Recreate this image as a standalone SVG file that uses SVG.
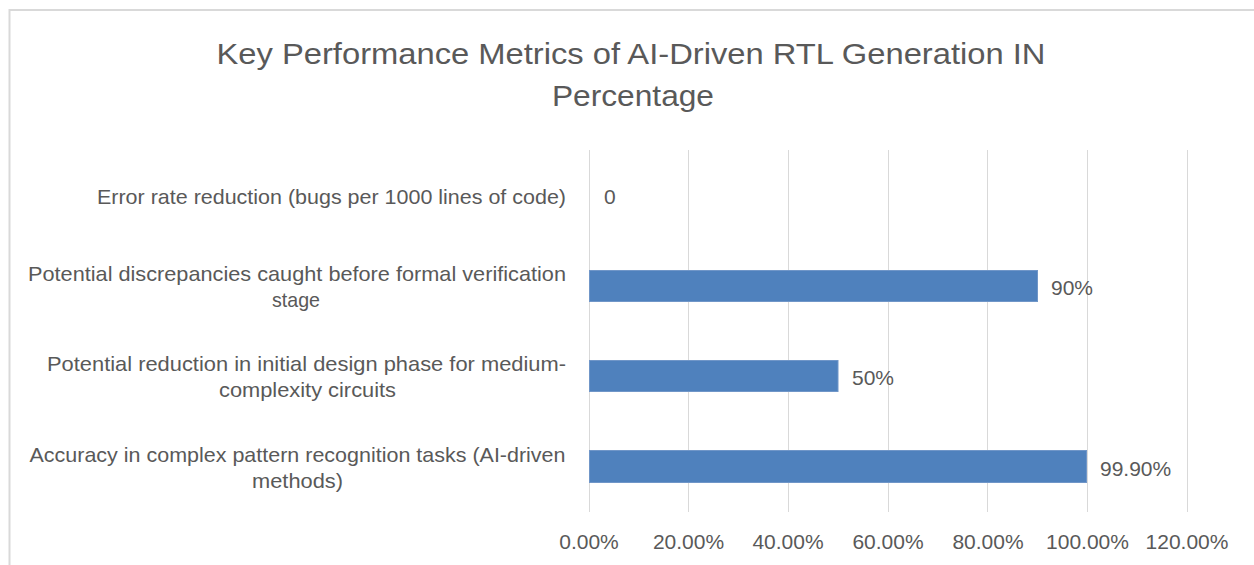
<svg xmlns="http://www.w3.org/2000/svg" width="1254" height="565" viewBox="0 0 1254 565">
  <style>
    text { font-family: "Liberation Sans", Arial, sans-serif; fill: #595959; }
    .title { font-size: 30px; text-anchor: middle; }
    .cat { font-size: 21px; }
    .catR { text-anchor: end; }
    .catM { text-anchor: middle; }
    .val { font-size: 21px; }
    .tick { font-size: 21px; text-anchor: middle; }
    .grid { stroke: #d9d9d9; stroke-width: 1; }
    .bar { fill: #4f81bd; stroke: #7096c8; stroke-width: 1; }
  </style>
  <rect x="0" y="0" width="1254" height="565" fill="#ffffff"/>
  <rect id="frame" x="9.5" y="10" width="1300" height="600" fill="#ffffff" stroke="#d9d9d9" stroke-width="2"/>

  <g id="title">
    <text class="title" x="631" y="64" textLength="829" lengthAdjust="spacingAndGlyphs">Key Performance  Metrics of AI-Driven RTL Generation IN</text>
    <text class="title" x="633" y="106" textLength="162" lengthAdjust="spacingAndGlyphs">Percentage</text>
  </g>

  <g id="gridlines">
    <line class="grid" x1="589.5" y1="150" x2="589.5" y2="512"/>
    <line class="grid" x1="688.5" y1="150" x2="688.5" y2="512"/>
    <line class="grid" x1="788.5" y1="150" x2="788.5" y2="512"/>
    <line class="grid" x1="888.5" y1="150" x2="888.5" y2="512"/>
    <line class="grid" x1="987.5" y1="150" x2="987.5" y2="512"/>
    <line class="grid" x1="1087.5" y1="150" x2="1087.5" y2="512"/>
    <line class="grid" x1="1187.5" y1="150" x2="1187.5" y2="512"/>
  </g>

  <g id="axis-labels">
    <text class="tick" x="589" y="549">0.00%</text>
    <text class="tick" x="688.5" y="549">20.00%</text>
    <text class="tick" x="788" y="549">40.00%</text>
    <text class="tick" x="888" y="549">60.00%</text>
    <text class="tick" x="988" y="549">80.00%</text>
    <text class="tick" x="1087.5" y="549">100.00%</text>
    <text class="tick" x="1187" y="549">120.00%</text>
  </g>

  <g id="cat-error-rate">
    <text class="cat catR" x="566" y="203.5" textLength="469" lengthAdjust="spacingAndGlyphs">Error rate reduction (bugs per 1000 lines of code)</text>
    <text class="val" x="604" y="204">0</text>
  </g>

  <g id="cat-discrepancies">
    <text class="cat catM" x="297" y="280.5" textLength="538" lengthAdjust="spacingAndGlyphs">Potential discrepancies caught before formal verification</text>
    <text class="cat catM" x="296" y="306.5" textLength="48" lengthAdjust="spacingAndGlyphs">stage</text>
    <rect class="bar" x="589.5" y="270.5" width="448" height="31"/>
    <text class="val" x="1051" y="295">90%</text>
  </g>

  <g id="cat-design-phase">
    <text class="cat catM" x="306.5" y="371" textLength="519" lengthAdjust="spacingAndGlyphs">Potential reduction in initial design phase for medium-</text>
    <text class="cat catM" x="307.5" y="397" textLength="177" lengthAdjust="spacingAndGlyphs">complexity circuits</text>
    <rect class="bar" x="589.5" y="360.5" width="248.5" height="31"/>
    <text class="val" x="852" y="384.5">50%</text>
  </g>

  <g id="cat-accuracy">
    <text class="cat catM" x="297.5" y="462" textLength="536" lengthAdjust="spacingAndGlyphs">Accuracy in complex pattern recognition tasks (AI-driven</text>
    <text class="cat catM" x="297.5" y="488" textLength="91" lengthAdjust="spacingAndGlyphs">methods)</text>
    <rect class="bar" x="589.5" y="450.5" width="497" height="32"/>
    <text class="val" x="1100" y="475.5">99.90%</text>
  </g>

  <g id="connectors"></g>
</svg>
